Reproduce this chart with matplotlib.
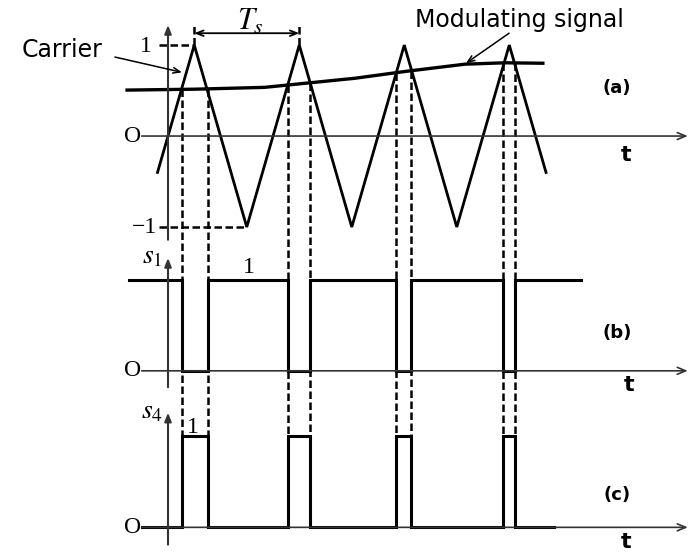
import numpy as np
import matplotlib.pyplot as plt

# triangular carrier (corner points, time in carrier periods Ts)
carrier_t = [-0.10, 0.25, 0.75, 1.25, 1.75, 2.25, 2.75, 3.25, 3.60]
carrier_v = [-0.40, 1.0, -1.0, 1.0, -1.0, 1.0, -1.0, 1.0, -0.40]

# slowly rising modulating signal
mod_t = [-0.39, 0.26, 0.92, 1.35, 1.78, 2.26, 2.83, 3.21, 3.57]
mod_v = [0.505, 0.515, 0.535, 0.585, 0.635, 0.71, 0.79, 0.805, 0.80]

# switching instants where the carrier crosses the modulating signal
fall_t = [0.133, 1.143, 2.171, 3.190]   # s1 goes 1 -> 0
rise_t = [0.381, 1.352, 2.314, 3.305]   # s1 goes 0 -> 1

# vertical offsets of the three traces
off_b = -2.58
off_c = -4.30

plt.rcParams['mathtext.fontset'] = 'stix'
serif = 'Liberation Serif'
sans = 'DejaVu Sans'
axcol = '#333333'

fig = plt.figure(figsize=(6.88, 5.52), dpi=100)
ax = fig.add_axes([0, 0, 1, 1])
ax.set_xlim(-1.6, 4.952)
ax.set_ylim(-4.571, 1.495)
ax.axis('off')

# --- axes ---
for base, y0, y1 in [(0, -1.14, 1.22), (off_b, -2.76, -1.34), (off_c, -4.49, -3.04)]:
    ax.annotate('', xy=(0, y1), xytext=(0, y0),
                arrowprops=dict(arrowstyle='-|>,head_length=0.5,head_width=0.2',
                                lw=1.5, color=axcol, shrinkA=0, shrinkB=0))
    ax.annotate('', xy=(4.95, base), xytext=(-0.25, base),
                arrowprops=dict(arrowstyle='->,head_length=0.6,head_width=0.25',
                                lw=1.2, color=axcol, shrinkA=0, shrinkB=0))

# --- (a) carrier and modulating signal ---
ax.plot(carrier_t, carrier_v, color='black', lw=2.0, solid_joinstyle='miter')
ax.plot(mod_t, mod_v, color='black', lw=2.4)

dash = dict(color='black', lw=1.8, dashes=(3.0, 1.4))
ax.plot([-0.085, carrier_t[1]], [1, 1], **dash)
ax.plot([-0.085, carrier_t[2]], [-1, -1], **dash)
for tp in [carrier_t[1], carrier_t[3]]:
    ax.plot([tp, tp], [1, 1.22], **dash)
ax.annotate('', xy=(carrier_t[3], 1.13), xytext=(carrier_t[1], 1.13),
            arrowprops=dict(arrowstyle='<->,head_length=0.5,head_width=0.2',
                            lw=1.3, color='black', shrinkA=0, shrinkB=0))
ax.text(0.78, 1.26, r'$T_s$', fontsize=22, ha='center', va='center')

# --- (b) and (c) switching signals ---
s1_t, s1_v = [-0.37], [1]
for f, r in zip(fall_t, rise_t):
    s1_t += [f, f, r, r]
    s1_v += [1, 0, 0, 1]
s1_t.append(3.93)
s1_v.append(1)
s1_v = np.array(s1_v)

s4_t = [-0.25] + s1_t[1:-1] + [3.68]
s4_v = 1 - s1_v

ax.plot(s1_t, off_b + s1_v, color='black', lw=2.2, solid_joinstyle='miter')
ax.plot(s4_t, off_c + s4_v, color='black', lw=2.2, solid_joinstyle='miter')

# dashed projections from the crossings down to the pulses
for ts in fall_t + rise_t:
    v_top = np.interp(ts, mod_t, mod_v)
    ax.plot([ts, ts], [v_top, off_c + 1], **dash)

# --- labels ---
ax.text(-0.15, 0.98, '1', family=serif, fontsize=17, ha='right', va='center')
ax.text(-0.105, -1.0, '\u22121', family=serif, fontsize=17, ha='right', va='center')
for base in [0, off_b, off_c]:
    ax.text(-0.34, base, 'O', family=serif, fontsize=17, ha='center', va='center')

ax.text(-0.05, -1.31, r'$s_1$', fontsize=20, ha='right', va='center')
ax.text(-0.05, -3.01, r'$s_4$', fontsize=20, ha='right', va='center')
ax.text(0.77, -1.45, '1', family=serif, fontsize=17, ha='center', va='center')
ax.text(0.24, -3.20, '1', family=serif, fontsize=17, ha='center', va='center')

for y, lab in [(0.527, '(a)'), (-2.165, '(b)'), (-3.945, '(c)')]:
    ax.text(4.276, y, lab, family=sans, fontsize=13, fontweight='bold',
            ha='center', va='center')
for x, y in [(4.36, -0.21), (4.39, -2.74), (4.36, -4.46)]:
    ax.text(x, y, 't', family=sans, fontsize=16, fontweight='bold',
            ha='center', va='center')

ax.text(-1.01, 0.945, 'Carrier', family=sans, fontsize=17, ha='center', va='center')
ax.annotate('', xy=(0.133, 0.70), xytext=(-0.505, 0.868),
            arrowprops=dict(arrowstyle='->,head_length=0.5,head_width=0.2',
                            lw=1.1, color='black', shrinkA=0, shrinkB=0))
ax.text(3.35, 1.275, 'Modulating signal', family=sans, fontsize=17,
        ha='center', va='center')
ax.annotate('', xy=(2.838, 0.80), xytext=(3.248, 1.13),
            arrowprops=dict(arrowstyle='->,head_length=0.5,head_width=0.2',
                            lw=1.1, color='black', shrinkA=0, shrinkB=0))

fig.savefig('out.png', dpi=100)
